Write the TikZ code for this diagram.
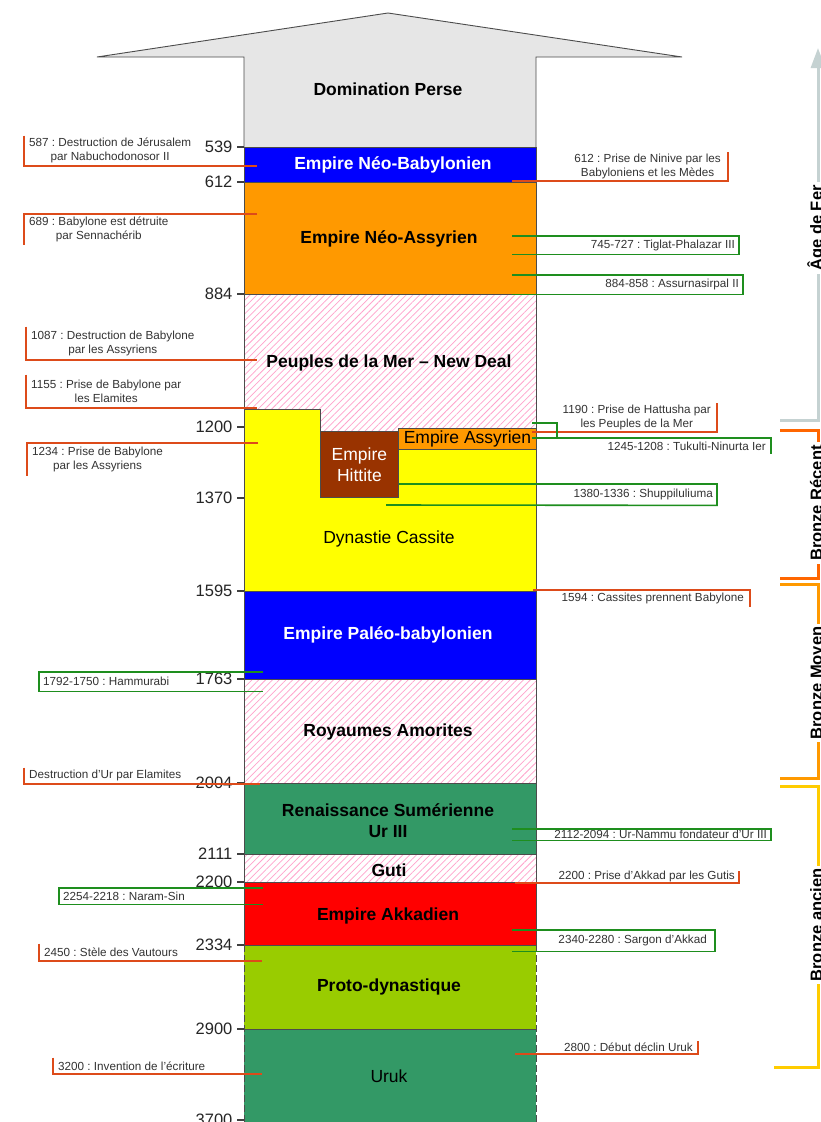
\documentclass[tikz,border=0pt]{standalone}
\usepackage{fontspec}
\setmainfont{Liberation Sans}
\usetikzlibrary{arrows.meta, patterns.meta}
\frenchspacing

\definecolor{persegray}{HTML}{E6E6E6}
\definecolor{babblue}{HTML}{0000FF}
\definecolor{assorange}{HTML}{FF9900}
\definecolor{hatchpink}{HTML}{FFA3CC}
\definecolor{cassyellow}{HTML}{FFFF00}
\definecolor{hitbrown}{HTML}{993300}
\definecolor{urgreen}{HTML}{339966}
\definecolor{akkred}{HTML}{FF0000}
\definecolor{protogreen}{HTML}{99CC00}
\definecolor{evred}{HTML}{DD4B1A}
\definecolor{evgrn}{HTML}{1E8E1E}
\definecolor{ferblue}{HTML}{C5D2D2}
\definecolor{recorange}{HTML}{FF6600}
\definecolor{moyorange}{HTML}{FF9900}
\definecolor{ancyellow}{HTML}{FFCC00}

\begin{document}
\begin{tikzpicture}[
        x=1pt, y=-1pt,
        per/.style={draw=black!70, line width=0.9pt},
        hatch/.style={pattern={Lines[angle=45,distance=4.8pt,line width=0.75pt]}, pattern color=hatchpink},
        ttl/.style={font=\bfseries\fontsize{17.5}{21}\selectfont, align=center, yshift=-2pt},
        sub/.style={font=\fontsize{17.5}{21}\selectfont, align=center},
        ev/.style={font=\fontsize{11.7}{14}\selectfont, text=black!80, align=center, inner xsep=5pt, inner ysep=0pt},
        redl/.style={draw=evred, line width=1.6pt},
        grnl/.style={draw=evgrn, line width=1.6pt},
        tk/.style={draw=black!75, line width=1.2pt},
        tklbl/.style={font=\fontsize{16.5}{18}\selectfont, text=black!85, anchor=east, inner xsep=4pt, inner ysep=0pt},
        agebar/.style={line width=3pt},
        age/.style={font=\bfseries\fontsize{16.5}{18}\selectfont, rotate=90, fill=white, inner sep=3pt, anchor=base}
    ]
        \fill[white] (0,0) rectangle (820,1122);
        \useasboundingbox (0,0) rectangle (820,1122);

        % periods
        \filldraw[per, fill=persegray] (244,147) -- (244,57) -- (97,57) -- (388,13) -- (682,57) -- (536,57) -- (536,147);
        \filldraw[per, fill=babblue] (244,147) rectangle (536,182);
        \filldraw[per, fill=assorange] (244,182) rectangle (536,294);
        \filldraw[per, hatch] (244,294) rectangle (536,431);
        \filldraw[per, fill=cassyellow] (244,409) -- (320,409) -- (320,431) -- (536,431) -- (536,591) -- (244,591) -- cycle;
        \node[per, fill=hitbrown, text=white, sub, anchor=north west, minimum width=78pt, minimum height=66pt, inner sep=0pt] (hittite) at (320,431) {Empire\\Hittite};
        \node[per, fill=assorange, sub, anchor=north west, minimum width=138pt, minimum height=21pt, inner sep=0pt] (assyr) at (398,428) {Empire Assyrien};
        \filldraw[per, fill=babblue] (244,591) rectangle (536,679);
        \filldraw[per, hatch] (244,679) rectangle (536,783);
        \filldraw[per, fill=urgreen] (244,783) rectangle (536,854);
        \filldraw[per, hatch] (244,854) rectangle (536,882);
        \filldraw[per, fill=akkred] (244,882) rectangle (536,945);
        \fill[protogreen] (244,945) rectangle (536,1029);
        \fill[urgreen] (244,1029) rectangle (536,1130);
        \draw[per] (244,945) -- (536,945);
        \draw[per] (244,1029) -- (536,1029);
        \draw[per, dash pattern=on 7pt off 3pt] (244,945) -- (244,1125);
        \draw[per, dash pattern=on 7pt off 3pt] (536,945) -- (536,1125);

        \node[ttl] (perse) at (388,87) {Domination Perse};
        \node[ttl, text=white] (neobab) at (393,163) {Empire Néo-Babylonien};
        \node[ttl] (neoass) at (389,237) {Empire Néo-Assyrien};
        \node[ttl] (peuples) at (389,361) {Peuples de la Mer – New Deal};
        \node[sub] (cassite) at (389,539) {Dynastie Cassite};
        \node[ttl, text=white] (paleo) at (388,633) {Empire Paléo-babylonien};
        \node[ttl] (amor) at (388,730) {Royaumes Amorites};
        \node[ttl] (ur3) at (388,819) {Renaissance Sumérienne\\Ur III};
        \node[ttl] (guti) at (389,868) {Guti};
        \node[ttl] (akkad) at (388,914) {Empire Akkadien};
        \node[ttl] (proto) at (389,985) {Proto-dynastique};
        \node[sub] (uruk) at (389,1076) {Uruk};

        % dates
        \foreach \yy/\yr in {147/539, 182/612, 294/884, 427/1200, 498/1370, 591/1595, 679/1763,
                             783/2004, 854/2111, 882/2200, 945/2334, 1029/2900, 1120/3700}
            \draw[tk] (237,\yy) -- (244,\yy) node[tklbl, at start] (y\yr) {\yr};

        % events left
        \coordinate (inL) at (263,0);
        \node[ev, anchor=south west, minimum height=30pt] (e587) at (24,166) {587 : Destruction de Jérusalem\\par Nabuchodonosor II};
        \coordinate (c587) at (257,166);
        \draw[redl] (e587.north west) -- (e587.south west) -- (c587);

        \node[ev, anchor=north west, minimum height=31pt] (e689) at (24,214) {689 : Babylone est détruite\\par Sennachérib};
        \coordinate (c689) at (257,214);
        \draw[redl] (c689) -- (e689.north west) -- (e689.south west);

        \node[ev, anchor=south west, minimum height=33pt] (e1087) at (26,360) {1087 : Destruction de Babylone\\par les Assyriens};
        \coordinate (c1087) at (257,360);
        \draw[redl] (e1087.north west) -- (e1087.south west) -- (c1087);

        \node[ev, anchor=south west, minimum height=33pt] (e1155) at (26,408) {1155 : Prise de Babylone par\\les Elamites};
        \coordinate (c1155) at (257,408);
        \draw[redl] (e1155.north west) -- (e1155.south west) -- (c1155);

        \node[ev, anchor=north west, minimum height=33pt] (e1234) at (27,443) {1234 : Prise de Babylone\\par les Assyriens};
        \coordinate (c1234) at (258,443);
        \draw[redl] (c1234) -- (e1234.north west) -- (e1234.south west);

        \node[ev, anchor=north west, minimum height=19pt, inner xsep=4pt] (e1792) at (39,672) {1792-1750 : Hammurabi};
        \draw[grnl] (e1792.north west -| inL) -- (e1792.north west) -- (e1792.south west) -- (e1792.south west -| inL);

        \node[ev, anchor=south west, minimum height=16pt] (e2004) at (24,784) {Destruction d’Ur par Elamites};
        \coordinate (c2004) at (260,784);
        \draw[redl] (e2004.north west) -- (e2004.south west) -- (c2004);

        \node[ev, anchor=north west, minimum height=16pt, inner xsep=4pt] (e2254) at (59,888) {2254-2218 : Naram-Sin};
        \draw[grnl] (e2254.north west -| inL) -- (e2254.north west) -- (e2254.south west) -- (e2254.south west -| inL);

        \node[ev, anchor=south west, minimum height=17pt] (e2450) at (39,961) {2450 : Stèle des Vautours};
        \coordinate (c2450) at (262,961);
        \draw[redl] (e2450.north west) -- (e2450.south west) -- (c2450);

        \node[ev, anchor=south west, minimum height=16pt] (e3200) at (53,1074) {3200 : Invention de l’écriture};
        \coordinate (c3200) at (262,1074);
        \draw[redl] (e3200.north west) -- (e3200.south west) -- (c3200);

        % events right
        \coordinate (inR) at (512,0);
        \node[ev, anchor=south east, minimum height=29pt, inner xsep=7pt] (e612) at (728,181) {612 : Prise de Ninive par les\\Babyloniens et les Mèdes};
        \coordinate (c612) at (512,181);
        \draw[redl] (c612) -- (e612.south east) -- (e612.north east);

        \node[ev, anchor=north east, minimum height=18pt, inner xsep=4pt] (e745) at (739,236) {745-727 : Tiglat-Phalazar III};
        \draw[grnl] (e745.north east -| inR) -- (e745.north east) -- (e745.south east) -- (e745.south east -| inR);

        \node[ev, anchor=north east, minimum height=19pt, inner xsep=4pt] (e884) at (743,275) {884-858 : Assurnasirpal II};
        \draw[grnl] (e884.north east -| inR) -- (e884.north east) -- (e884.south east) -- (e884.south east -| inR);

        \node[ev, anchor=south east, minimum height=29pt, inner xsep=6pt] (e1190) at (717,432) {1190 : Prise de Hattusha par\\les Peuples de la Mer};
        \coordinate (c1190) at (532,432);
        \draw[redl] (c1190) -- (e1190.south east) -- (e1190.north east);

        \node[ev, anchor=north east, minimum height=16pt, inner xsep=5pt] (e1245) at (771,438) {1245-1208 : Tukulti-Ninurta Ier};
        \coordinate (tk1) at (532,423);
        \coordinate (tk2) at (532,438);
        \coordinate (tkm) at (557,430);
        \draw[grnl] (tk1) -| (tkm |- tk2);
        \draw[grnl] (tk2) -- (e1245.north east) -- (e1245.south east);

        \node[ev, anchor=north east, minimum height=21pt, inner xsep=4pt] (e1380) at (717,484) {1380-1336 : Shuppiluliuma};
        \coordinate (sh1) at (hittite.east |- e1380.north east);
        \coordinate (sh2) at (386,505);
        \draw[grnl] (sh1) -- (e1380.north east) -- (e1380.south east) -- (sh2);

        \node[ev, anchor=north east, minimum height=17pt, inner xsep=6pt] (e1594) at (750,590) {1594 : Cassites prennent Babylone};
        \coordinate (c1594) at (533,590);
        \draw[redl] (c1594) -- (e1594.north east) -- (e1594.south east);

        \node[ev, anchor=north east, minimum height=11pt, inner xsep=4pt] (e2112) at (771,829) {2112-2094 : Ur-Nammu fondateur d’Ur III};
        \draw[grnl] (e2112.north east -| inR) -- (e2112.north east) -- (e2112.south east) -- (e2112.south east -| inR);

        \node[ev, anchor=south east, minimum height=12pt, inner xsep=4pt] (e2200) at (739,883) {2200 : Prise d’Akkad par les Gutis};
        \coordinate (c2200) at (515,883);
        \draw[redl] (c2200) -- (e2200.south east) -- (e2200.north east);

        \node[ev, anchor=north east, minimum height=21pt, inner xsep=8pt] (e2340) at (715,930) {2340-2280 : Sargon d’Akkad};
        \draw[grnl] (e2340.north east -| inR) -- (e2340.north east) -- (e2340.south east) -- (e2340.south east -| inR);

        \node[ev, anchor=south east, minimum height=13pt, inner xsep=5pt] (e2800) at (698,1054) {2800 : Début déclin Uruk};
        \coordinate (c2800) at (515,1054);
        \draw[redl] (c2800) -- (e2800.south east) -- (e2800.north east);

        % ages
        \coordinate (fer1) at (780,420);
        \coordinate (fer2) at (818,48);
        \draw[agebar, ferblue, -{Triangle[width=14pt,length=20pt]}] (fer1) -| (fer2);
        \node[age] (fer) at (822,228) {Âge de Fer};

        \coordinate (rec1) at (780,430);
        \coordinate (rec2) at (780,578);
        \draw[agebar, recorange] (rec1) -- ++(38,0) |- (rec2);
        \node[age] (rec) at (822,503) {Bronze Récent};

        \coordinate (moy1) at (780,584);
        \coordinate (moy2) at (780,778);
        \draw[agebar, moyorange] (moy1) -- ++(38,0) |- (moy2);
        \node[age] (moy) at (822,683) {Bronze Moyen};

        \coordinate (anc1) at (780,786);
        \coordinate (anc2) at (774,1067);
        \draw[agebar, ancyellow] (anc1) -- (anc1 -| fer2) |- (anc2);
        \node[age] (anc) at (822,925) {Bronze ancien};
    \end{tikzpicture}
\end{document}
